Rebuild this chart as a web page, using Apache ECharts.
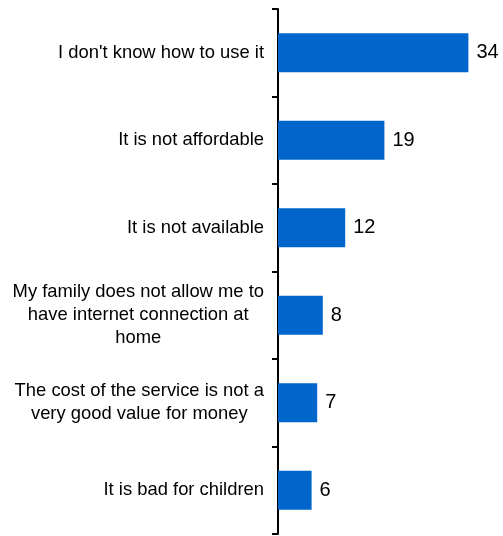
<!DOCTYPE html>
<html>
<head>
<meta charset="utf-8">
<style>
  html, body { margin: 0; padding: 0; background: #ffffff; }
  #chart { width: 503px; height: 536px; }
</style>
<script src="https://cdn.jsdelivr.net/npm/echarts@6/dist/echarts.min.js"></script>
</head>
<body>
<div id="chart"></div>
<script>
// Reasons given for not having an internet connection at home
const categories = [
  "I don't know how to use it",
  "It is not affordable",
  "It is not available",
  "My family does not allow me to\nhave internet connection at\nhome",
  "The cost of the service is not a\nvery good value for money",
  "It is bad for children"
];
const values = [34, 19, 12, 8, 7, 6];

const FONT = '"Liberation Sans", Arial, sans-serif';

const chart = echarts.init(document.getElementById('chart'), null, { renderer: 'canvas' });

chart.setOption({
  animation: false,
  backgroundColor: '#ffffff',
  grid: { left: 278, right: 1, top: 9, bottom: 2, containLabel: false },
  xAxis: {
    type: 'value',
    min: 0,
    max: 40,
    show: false
  },
  yAxis: {
    type: 'category',
    data: categories,
    inverse: true,
    axisLine: { show: true, lineStyle: { color: '#000000', width: 2 } },
    axisTick: { show: true, inside: false, length: 6, lineStyle: { color: '#000000', width: 2 } },
    splitLine: { show: false },
    axisLabel: {
      margin: 14,
      color: '#000000',
      fontFamily: FONT,
      fontSize: 18.4,
      // each line is centred within the label block
      formatter: function (v) {
        return v.split('\n').map(function (s) { return '{c|' + s + '}'; }).join('\n');
      },
      rich: {
        c: { align: 'center', fontFamily: FONT, fontSize: 18.4, lineHeight: 23, color: '#000000' }
      }
    }
  },
  series: [{
    type: 'bar',
    data: values,
    barWidth: 39,
    itemStyle: { color: '#0066CC' },
    label: {
      show: true,
      position: 'right',
      distance: 8,
      color: '#000000',
      fontFamily: FONT,
      fontSize: 20
    }
  }]
});
</script>
</body>
</html>
